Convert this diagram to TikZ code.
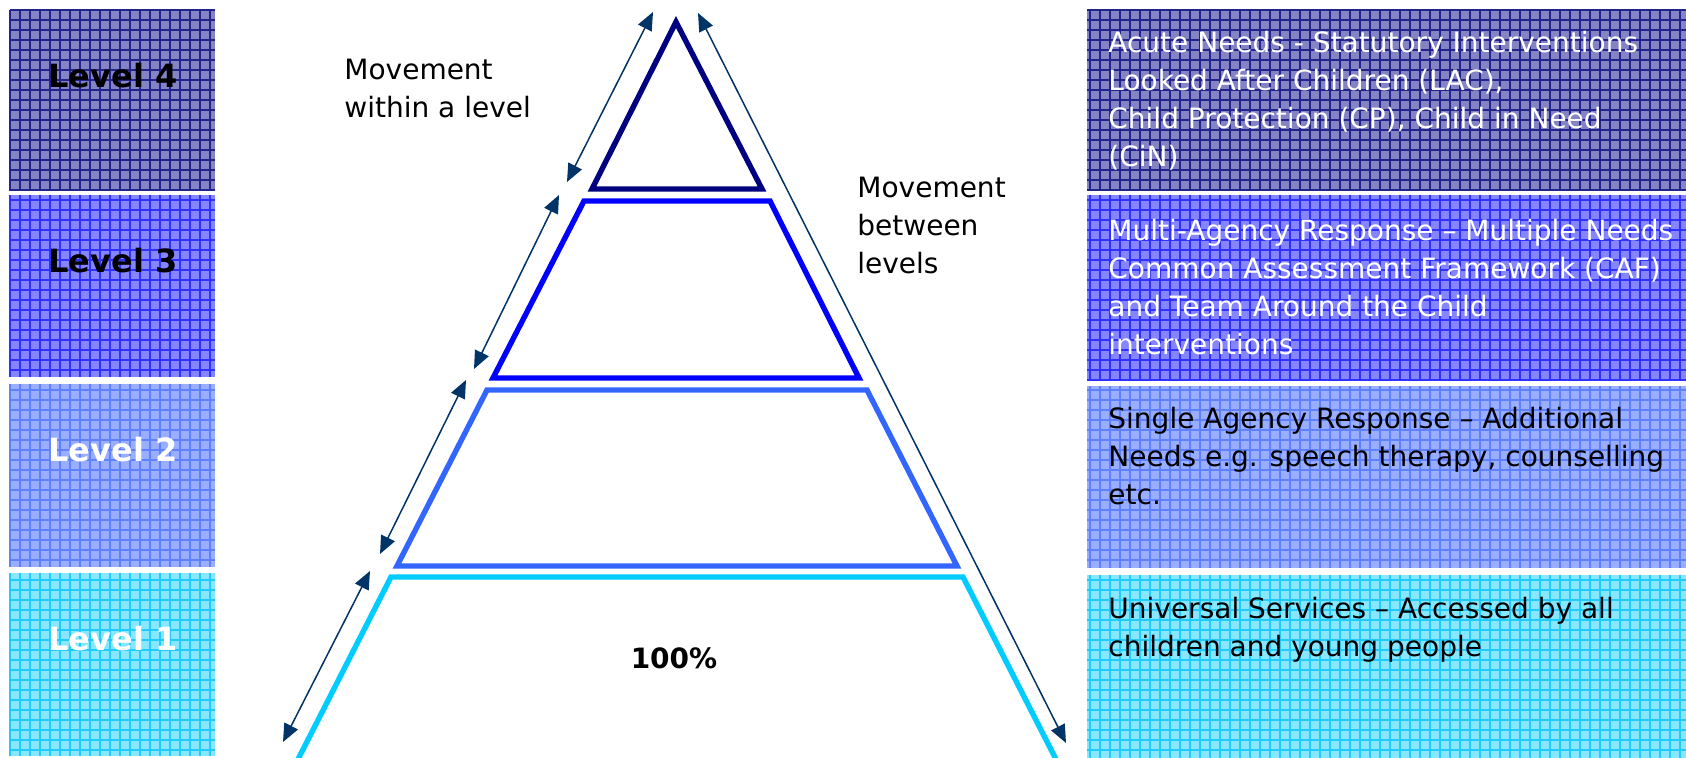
\documentclass[tikz,border=0pt]{standalone}
\usepackage{fontspec}
\setmainfont{DejaVu Sans}
\usetikzlibrary{arrows.meta}
\definecolor{band4}{HTML}{8484C4}
\definecolor{mesh4}{HTML}{23238C}
\definecolor{band3}{HTML}{8585FF}
\definecolor{mesh3}{HTML}{3030FF}
\definecolor{band2}{HTML}{9AAEFF}
\definecolor{mesh2}{HTML}{5F80FF}
\definecolor{band1}{HTML}{88E6FF}
\definecolor{mesh1}{HTML}{20CCFF}
\definecolor{side4}{HTML}{000080}
\definecolor{side3}{HTML}{0000FF}
\definecolor{side2}{HTML}{3366FF}
\definecolor{side1}{HTML}{00CCFF}
\definecolor{arrowblue}{HTML}{003366}

\begin{document}
\begin{tikzpicture}[x=0.5pt, y=-0.5pt,
    level label/.style={font=\fontsize{16}{19}\selectfont\bfseries},
    info text/.style={anchor=north west, inner sep=0pt, align=left, font=\fontsize{14}{19}\selectfont},
    pyramid side/.style={line width=2.7pt},
    move arrow/.style={draw=arrowblue, line width=0.75pt, {Triangle[length=9pt,width=7.5pt]}-{Triangle[length=9pt,width=7.5pt]}}]
\useasboundingbox (0,0) rectangle (1686,758);
% coloured bands, left and right
\foreach \n/\ya/\yb/\ra/\rb/\tc in {4/10/191/10/191/black, 3/195/377/195/381/black, 2/384/567/386/568/white, 1/573/756/575/758/white}{
    \fill[band\n] (10,\ya) rectangle (215,\yb);
    \draw[mesh\n, line width=0.55pt, step=5pt] (10,\yb) grid (215,\ya);
    \fill[band\n] (1087,\ra) rectangle (1686,\rb);
    \draw[mesh\n, line width=0.55pt, step=5pt] (1087,\rb) grid (1686,\ra);
    \node[level label, text=\tc] (lev\n) at (113,\ya+66) {Level \n};}
\node[info text, text=white] (need4) at (1108,31) {Acute Needs - Statutory Interventions\\Looked After Children (LAC),\\Child Protection (CP), Child in Need\\(CiN)};
\node[info text, text=white] (need3) at (1108,219) {Multi-Agency Response – Multiple Needs\\Common Assessment Framework (CAF)\\and Team Around the Child\\interventions};
\node[info text] (need2) at (1108,407) {Single Agency Response – Additional\\Needs e.g. speech therapy, counselling\\etc.};
\node[info text] (need1) at (1108,597) {Universal Services – Accessed by all\\children and young people};
% the pyramid
\draw[pyramid side, side4] (676,22) -- (762,189) -- (592,189) -- cycle;
\draw[pyramid side, side3] (584,201) -- (770,201) -- (859,378) -- (493,378) -- cycle;
\draw[pyramid side, side2] (487,390) -- (867,390) -- (957,566) -- (397,566) -- cycle;
\draw[pyramid side, side1] (290,775) -- (391,577) -- (963,577) -- (1064,775);
\node[font=\fontsize{14}{19}\selectfont\bfseries] (pct) at (674,658) {100\%};
% movement arrows
\foreach \i/\xa/\ya/\xb/\yb in {4/653/12/567/182, 3/559/195/474/369, 2/466/380/380/554, 1/370/571/283/742, 0/698/13/1066/743}{
    \coordinate (up\i) at (\xa,\ya);
    \coordinate (dn\i) at (\xb,\yb);
    \draw[move arrow] (up\i) -- (dn\i);}
\node[info text] (within) at (344,59) {Movement\\within a level};
\node[info text] (between) at (857,177) {Movement\\between\\levels};
\end{tikzpicture}
\end{document}
